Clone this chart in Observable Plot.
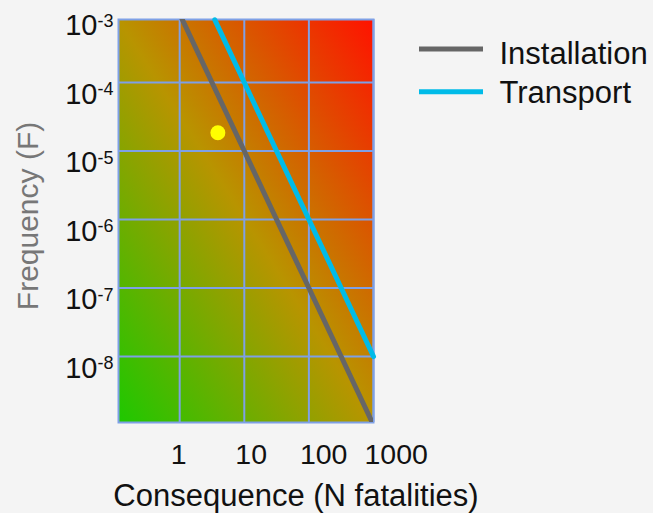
<!DOCTYPE html>
<html>
<head>
<meta charset="utf-8">
<script src="https://cdn.jsdelivr.net/npm/d3@7"></script>
<script src="https://cdn.jsdelivr.net/npm/@observablehq/plot@0.6"></script>
<style>
  html, body { margin: 0; padding: 0; background: #f4f4f4; }
  #wrap { position: relative; width: 653px; height: 513px; font-family: "Liberation Sans", Arial, sans-serif; }
  #legend { position: absolute; left: 0; top: 0; pointer-events: none; }
</style>
</head>
<body>
<div id="wrap"></div>
<script>
// ---- data ----
const xDomain = [0.113, 1000];
const yDomain = [1.09e-9, 8.3e-4];
const xTicks = [1, 10, 100, 1000];
const yTicks = [1e-3, 1e-4, 1e-5, 1e-6, 1e-7, 1e-8];
const yTickExponents = ["-3", "-4", "-5", "-6", "-7", "-8"];

const seriesNames = ["Installation", "Transport"];
const seriesColors = ["#666666", "#00bbe8"];

const installationN = [1, 10, 100, 1000];
const installationF = [1e-3, 1e-5, 1e-7, 1e-9];
const transportN = [3.5, 10, 100, 1000];
const transportF = [8.2e-4, 1e-4, 1e-6, 1e-8];

const pointN = [3.9];
const pointF = [1.85e-5];

const xLabel = "Consequence (N fatalities)";
const yLabel = "Frequency (F)";

// ---- tables ----
const installation = installationN.map((n, i) => ({N: n, F: installationF[i]}));
const transport = transportN.map((n, i) => ({N: n, F: transportF[i]}));
const points = pointN.map((n, i) => ({N: n, F: pointF[i]}));
const yGridTicks = yTicks.filter(t => t >= yDomain[0] && t <= yDomain[1]);

const gridColor = "#7ea0e6";
const font = "Liberation Sans, Arial, sans-serif";
const bgPlaceholder = "#878787";

const plot = Plot.plot({
  width: 653,
  height: 513,
  marginLeft: 118,
  marginRight: 280,
  marginTop: 19,
  marginBottom: 91,
  style: {background: "transparent", color: "#111", fontFamily: font},
  x: {type: "log", domain: xDomain},
  y: {type: "log", domain: yDomain},
  marks: [
    Plot.frame({fill: bgPlaceholder, stroke: null}),
    Plot.gridX(xTicks, {stroke: gridColor, strokeOpacity: 1, strokeWidth: 2}),
    Plot.gridY(yGridTicks, {stroke: gridColor, strokeOpacity: 1, strokeWidth: 2}),
    Plot.frame({stroke: gridColor, strokeWidth: 2}),
    Plot.line(installation, {x: "N", y: "F", stroke: seriesColors[0], strokeWidth: 5, clip: true}),
    Plot.line(transport, {x: "N", y: "F", stroke: seriesColors[1], strokeWidth: 5}),
    Plot.dot(points, {x: "N", y: "F", r: 7.5, fill: "#ffff00", stroke: null}),
    Plot.axisX(xTicks, {tickSize: 0, tickPadding: 21, fontSize: 28.5, textAnchor: "start", dx: -9,
      tickFormat: d => String(d), label: null}),
    Plot.axisY(yTicks, {tickSize: 0, tickPadding: 5, fontSize: 29, dy: 12,
      tickFormat: () => "10", label: null}),
    Plot.text([xLabel], {frameAnchor: "bottom", textAnchor: "middle", lineAnchor: "middle",
      dy: 73.7, dx: 50, fontSize: 31, fill: "#111"}),
    Plot.text([yLabel], {frameAnchor: "left", textAnchor: "middle", lineAnchor: "middle",
      rotate: -90, dx: -89.7, dy: -5, fontSize: 30, fill: "#777"})
  ]
});

const svg = d3.select(plot);
// gradient background
const defs = svg.insert("defs", ":first-child");
const grad = defs.append("linearGradient")
  .attr("id", "riskGrad")
  .attr("x1", 0).attr("y1", 1).attr("x2", 1).attr("y2", 0);
[[0, "#1ec800"], [0.5, "#b89400"], [1, "#ff1200"]].forEach(([o, c]) =>
  grad.append("stop").attr("offset", o).attr("stop-color", c));
svg.selectAll("*").filter(function() {
  return this.getAttribute("fill") === bgPlaceholder;
}).attr("fill", "url(#riskGrad)");

// superscript exponents on y tick labels
svg.selectAll('g[aria-label="y-axis tick label"] text').each(function(_, i) {
  d3.select(this).append("tspan")
    .attr("font-size", 18)
    .attr("dy", -8.5)
    .text(yTickExponents[i]);
});

const wrap = document.getElementById("wrap");
wrap.appendChild(plot);

// legend
const legend = d3.select(wrap).append("svg")
  .attr("id", "legend").attr("width", 653).attr("height", 120);
const legendY = [49, 91.7];
const textY = [64, 103];
seriesNames.forEach((name, i) => {
  legend.append("line")
    .attr("x1", 419).attr("x2", 483).attr("y1", legendY[i]).attr("y2", legendY[i])
    .attr("stroke", seriesColors[i]).attr("stroke-width", 5);
  legend.append("text")
    .attr("x", 499.5).attr("y", textY[i])
    .attr("font-family", font).attr("font-size", 31).attr("fill", "#111")
    .text(name);
});
</script>
</body>
</html>
